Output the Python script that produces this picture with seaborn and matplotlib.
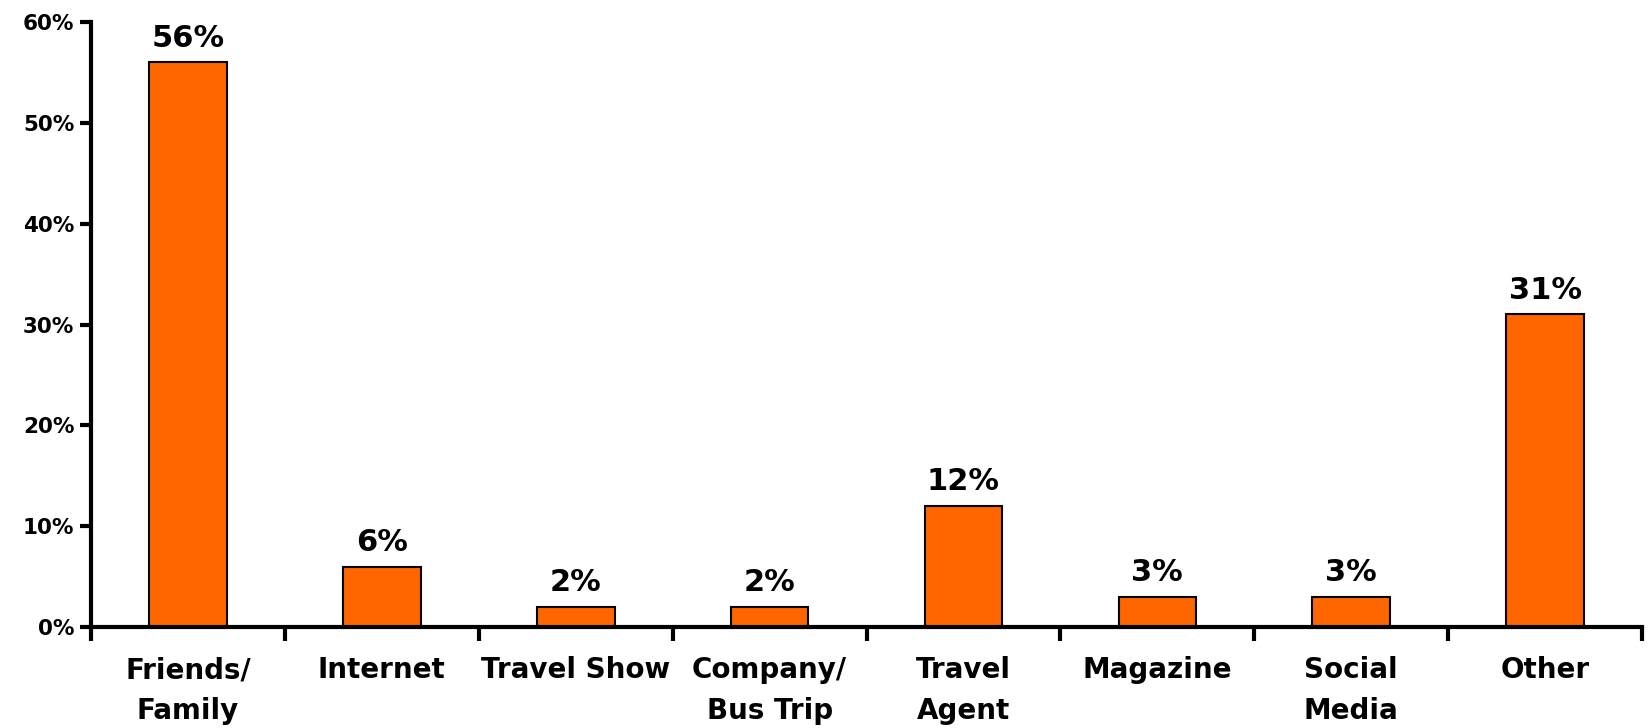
import matplotlib
matplotlib.use("Agg")
import numpy as np
import pandas as pd
import seaborn as sns
import matplotlib.pyplot as plt
from matplotlib.ticker import PercentFormatter, FixedLocator

# Veriler
categories = ["Friends/\nFamily", "Internet", "Travel Show", "Company/\nBus Trip",
              "Travel\nAgent", "Magazine", "Social\nMedia", "Other"]
values = [0.56, 0.06, 0.02, 0.02, 0.12, 0.03, 0.03, 0.31]
value_labels = ["56%", "6%", "2%", "2%", "12%", "3%", "3%", "31%"]

sns.set_style("white")
plt.rcParams["font.family"] = ["DejaVu Sans"]
plt.rcParams["font.weight"] = "bold"
plt.rcParams["text.color"] = "black"
plt.rcParams["xtick.color"] = "black"
plt.rcParams["ytick.color"] = "black"

df = pd.DataFrame({"cat": categories, "val": values})

fig = plt.figure(figsize=(16.49, 7.28), dpi=100)
ax = fig.add_axes([0.0552, 0.1387, 0.9406, 0.8311])
sns.barplot(data=df, x="cat", y="val", color="#FF6600", saturation=1,
            width=0.4, edgecolor="black", linewidth=1.5, ax=ax)

for i, (v, lab) in enumerate(zip(values, value_labels)):
    ax.annotate(lab, (i, v), xytext=(0, 7), textcoords="offset points",
                ha="center", va="bottom", fontsize=22, fontweight="bold",
                color="black")

ax.set_ylim(0, 0.6)
ax.set_xlim(-0.5, len(categories) - 0.5)
ax.yaxis.set_major_formatter(PercentFormatter(1.0, decimals=0))
ax.set_yticks(np.arange(0, 0.61, 0.1))
ax.xaxis.set_minor_locator(FixedLocator(np.arange(-0.5, len(categories), 1.0)))
ax.tick_params(axis="x", which="major", length=0, pad=21, labelsize=20,
               labelcolor="black")
ax.tick_params(axis="x", which="minor", direction="out", length=10, width=3,
               bottom=True, color="black")
ax.tick_params(axis="y", direction="out", length=8, width=3, left=True,
               labelsize=15.5, pad=4, color="black", labelcolor="black")
for t in ax.get_xticklabels():
    t.set_fontweight("bold")
    t.set_linespacing(1.6)
for t in ax.get_yticklabels():
    t.set_fontweight("bold")

sns.despine(ax=ax)
for s in ["left", "bottom"]:
    ax.spines[s].set_linewidth(3)
    ax.spines[s].set_color("black")
ax.set_xlabel("")
ax.set_ylabel("")

fig.savefig("out.png", dpi=100)
